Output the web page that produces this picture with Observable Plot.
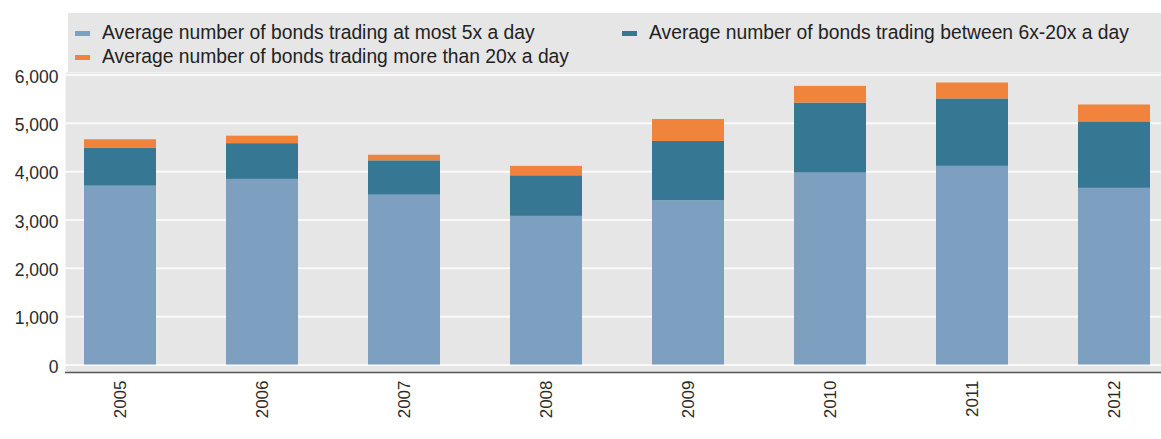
<!DOCTYPE html>
<html><head><meta charset="utf-8">
<script src="https://cdn.jsdelivr.net/npm/d3@7"></script>
<script src="https://cdn.jsdelivr.net/npm/@observablehq/plot@0.6"></script>
<style>
body{margin:0;background:#fff;font-family:"Liberation Sans",Arial,sans-serif;}
#wrap{position:relative;width:1161px;height:439px;overflow:hidden;background:#fff}
#legend{position:absolute;left:68px;top:13px;width:1093px;height:59px;background:#e6e6e6;z-index:2}
.item{position:absolute;font-size:19.3px;color:#222;white-space:nowrap;line-height:24px;height:24px}
.sw{position:absolute;width:15px;height:5px;top:10px}
.tx{position:absolute;top:0}
#chart{position:absolute;left:0;top:56px;z-index:1}
</style></head><body>
<div id="wrap"><div id="legend"></div><div id="chart"></div></div>
<script>
const years = ["2005","2006","2007","2008","2009","2010","2011","2012"];
const atMost5 = [3700,3840,3515,3075,3400,3970,4110,3655];
const between6and20 = [790,740,710,840,1225,1450,1395,1375];
const moreThan20 = [170,155,115,195,455,345,330,350];
const seriesNames = [
  "Average number of bonds trading at most 5x a day",
  "Average number of bonds trading between 6x-20x a day",
  "Average number of bonds trading more than 20x a day"
];
const seriesColors = ["#7d9fc0","#367894","#f0843c"];
const yTicks = [0,1000,2000,3000,4000,5000,6000];
const yMin = -155, yMax = 6052;

const seriesValues = [atMost5, between6and20, moreThan20];
const data = [];
years.forEach((y, i) => seriesValues.forEach((vals, s) => data.push({year: y, series: seriesNames[s], value: vals[i]})));

// legend (HTML, real text)
const legendPos = [{left:7, top:8}, {left:554, top:8}, {left:7, top:32}];
const legend = document.getElementById("legend");
seriesNames.forEach((name, i) => {
  const it = document.createElement("div");
  it.className = "item";
  it.style.left = legendPos[i].left + "px";
  it.style.top = legendPos[i].top + "px";
  const sw = document.createElement("div");
  sw.className = "sw"; sw.style.left = "0px"; sw.style.background = seriesColors[i];
  const tx = document.createElement("div");
  tx.className = "tx"; tx.style.left = "27px"; tx.textContent = name;
  it.appendChild(sw); it.appendChild(tx);
  legend.appendChild(it);
});

const plot = Plot.plot({
  width: 1161,
  height: 383,
  marginTop: 16,
  marginBottom: 67,
  marginLeft: 65,
  marginRight: 0,
  style: {fontFamily: "'Liberation Sans', Arial, sans-serif", background: "transparent", color: "#333"},
  x: {type: "band", domain: years, range: [65, 1168.6], paddingInner: 0.49, paddingOuter: 0.12},
  y: {domain: [yMin, yMax], range: [316, 16]},
  color: {domain: seriesNames, range: seriesColors},
  marks: [
    Plot.frame({fill: "#e6e6e6", stroke: null}),
    Plot.gridY(yTicks, {stroke: "#fafafa", strokeOpacity: 1, strokeWidth: 2}),
    Plot.barY(data, {x: "year", y: "value", fill: "series"}),
    Plot.ruleY([yMin], {stroke: "#555", strokeWidth: 1.5}),
    Plot.axisY(yTicks, {tickSize: 0, tickPadding: 7, fontSize: 17.5, dy: 2, tickFormat: d3.format(","), fill: "#2a2a2a", label: null}),
    Plot.axisX({tickRotate: -90, tickSize: 0, tickPadding: 8, fontSize: 17, fill: "#2a2a2a", label: null})
  ]
});
document.getElementById("chart").appendChild(plot);
</script>
</body></html>
